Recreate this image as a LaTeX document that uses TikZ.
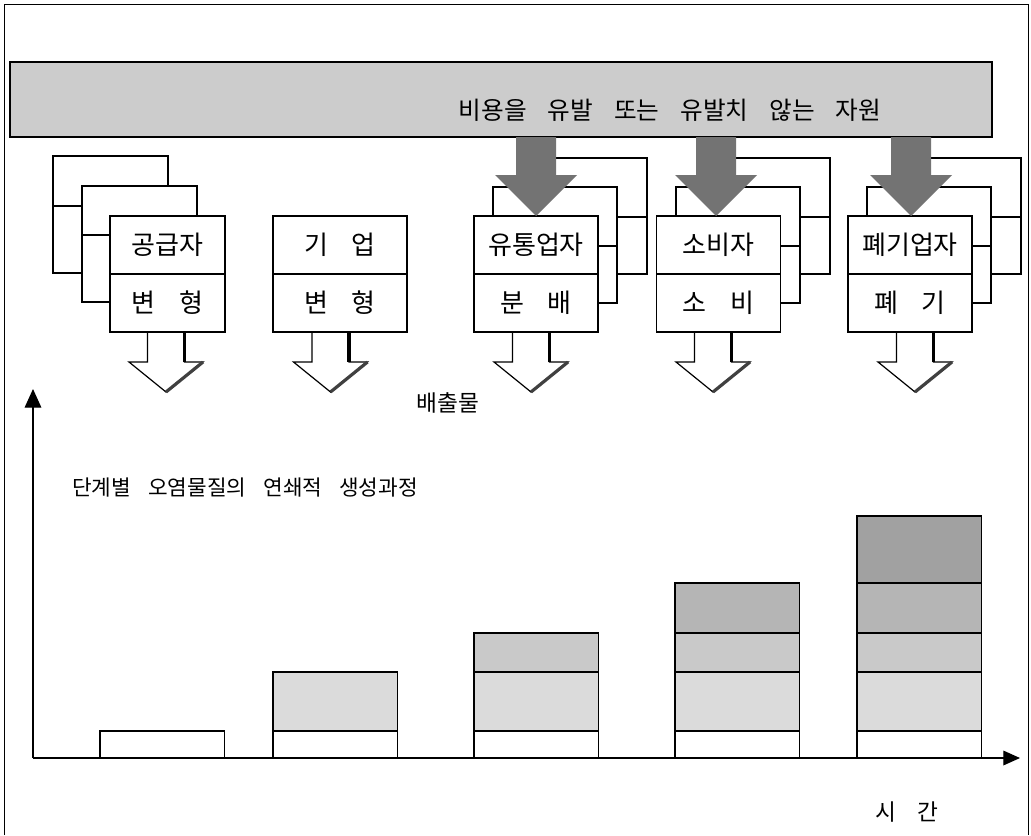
\documentclass[tikz,border=0pt]{standalone}
\usepackage{fontspec}
\setmainfont{Noto Sans CJK KR}
\usetikzlibrary{arrows.meta}
\definecolor{bannergray}{gray}{0.80}
\definecolor{ingray}{gray}{0.45}
\definecolor{gtwo}{gray}{0.86}
\definecolor{gthree}{gray}{0.79}
\definecolor{gfour}{gray}{0.71}
\definecolor{gfive}{gray}{0.63}
\newcommand\barlayer[4]{\filldraw[fill=#4, line width=1pt] (#1,#2) rectangle ({#1+124.5},#3);}
\begin{document}
\begin{tikzpicture}[x=0.75pt,y=-0.75pt,
  frameline/.style={line width=0.6pt},
  backbox/.style={draw, fill=white, line width=1pt},
  cell/.style={draw, fill=white, line width=1pt, inner sep=0pt, minimum height=43.5pt, font=\fontsize{19.5}{22}\selectfont},
  outarrow/.style={draw, fill=white, line width=0.9pt},
  lbl/.style={inner sep=0pt}
]
\useasboundingbox (0,0) rectangle (1031,835);

% outer frame
\draw[frameline] (4,835) -- (4,4) -- (1028,4) -- (1028,835);

% banner
\draw[fill=bannergray, line width=0.8pt] (10,62) rectangle (992,137);
\node[lbl, font=\fontsize{18.5}{20}\selectfont] (restext) at (670,110)
  {비용을\hspace{.85em}유발\hspace{.85em}또는\hspace{.85em}유발치\hspace{.85em}않는\hspace{.85em}자원};

% ---- stack behind 공급자 (to the left)
\draw[backbox] (53,156) rectangle (168,273); \draw[line width=1pt] (53,206) -- (168,206);
\draw[backbox] (82,186) rectangle (197,302); \draw[line width=1pt] (82,235) -- (197,235);
% ---- stacks behind 유통업자, 소비자, 폐기업자 (to the right)
\foreach \l in {474,657,848}{
  \draw[backbox] ({\l+49},158) rectangle ({\l+173},274); \draw[line width=1pt] ({\l+49},217) -- ({\l+173},217);
  \draw[backbox] ({\l+19},187) rectangle ({\l+143},303); \draw[line width=1pt] ({\l+19},246) -- ({\l+143},246);
}

% ---- front boxes
\node[cell, minimum width=86.25pt] (supT) at (167.5,245) {공급자};
\node[cell, minimum width=86.25pt] (supB) at (167.5,303) {변\hspace{0.9em}형};
\node[cell, minimum width=100.5pt] (firmT) at (340,245) {기\hspace{0.9em}업};
\node[cell, minimum width=100.5pt] (firmB) at (340,303) {변\hspace{0.9em}형};
\node[cell, minimum width=93pt] (distT) at (536,245) {유통업자};
\node[cell, minimum width=93pt] (distB) at (536,303) {분\hspace{0.9em}배};
\node[cell, minimum width=93pt] (consT) at (718.5,245) {소비자};
\node[cell, minimum width=93pt] (consB) at (718.5,303) {소\hspace{0.9em}비};
\node[cell, minimum width=93pt] (wasteT) at (910,245) {폐기업자};
\node[cell, minimum width=93pt] (wasteB) at (910,303) {폐\hspace{0.9em}기};

% ---- input arrows from the banner
\foreach \c in {536,716,911}{
  \fill[ingray] ({\c-20},137) -- ({\c-20},175) -- ({\c-41},175) -- (\c,216) -- ({\c+41},175) -- ({\c+20},175) -- ({\c+20},137) -- cycle;
}

% ---- output arrows (emissions)
\foreach \c in {166,330.5,531,713,915}{
  \path[outarrow] ({\c-18.5},333) -- ({\c-18.5},362) -- ({\c-37},362) -- (\c,392) -- ({\c+37},362) -- ({\c+18.5},362) -- ({\c+18.5},333);
  \draw[line width=2.4pt] ({\c+18.5},333) -- ({\c+18.5},362);
  \draw[line width=2.4pt, black!75] ({\c+37},362) -- (\c,392);
}

\node[lbl, font=\fontsize{17}{20}\selectfont] (emis) at (448,403) {배출물};

\node[lbl, anchor=west, font=\fontsize{16}{19}\selectfont] (title) at (72,488)
  {단계별\hspace{0.8em}오염물질의\hspace{0.8em}연쇄적\hspace{0.8em}생성과정};

% ---- bars
\barlayer{100}{731}{758}{white}
\barlayer{273}{731}{758}{white}
\barlayer{273}{672}{731}{gtwo}
\barlayer{474}{731}{758}{white}
\barlayer{474}{672}{731}{gtwo}
\barlayer{474}{633}{672}{gthree}
\barlayer{675}{731}{758}{white}
\barlayer{675}{672}{731}{gtwo}
\barlayer{675}{633}{672}{gthree}
\barlayer{675}{583}{633}{gfour}
\barlayer{857}{731}{758}{white}
\barlayer{857}{672}{731}{gtwo}
\barlayer{857}{633}{672}{gthree}
\barlayer{857}{583}{633}{gfour}
\barlayer{857}{516}{583}{gfive}

% ---- axes
\coordinate (origin) at (33,758);
\coordinate (ytip) at (33,389);
\coordinate (xtip) at (1020,758);
\draw[line width=0.9pt, -{Triangle[length=14pt,width=12.5pt]}] (origin) -- (ytip);
\draw[line width=0.9pt, -{Triangle[length=12.5pt,width=11pt]}] (origin) -- (xtip);

\node[lbl, font=\fontsize{17}{20}\selectfont] (time) at (907,812) {시\hspace{0.9em}간};
\end{tikzpicture}
\end{document}
